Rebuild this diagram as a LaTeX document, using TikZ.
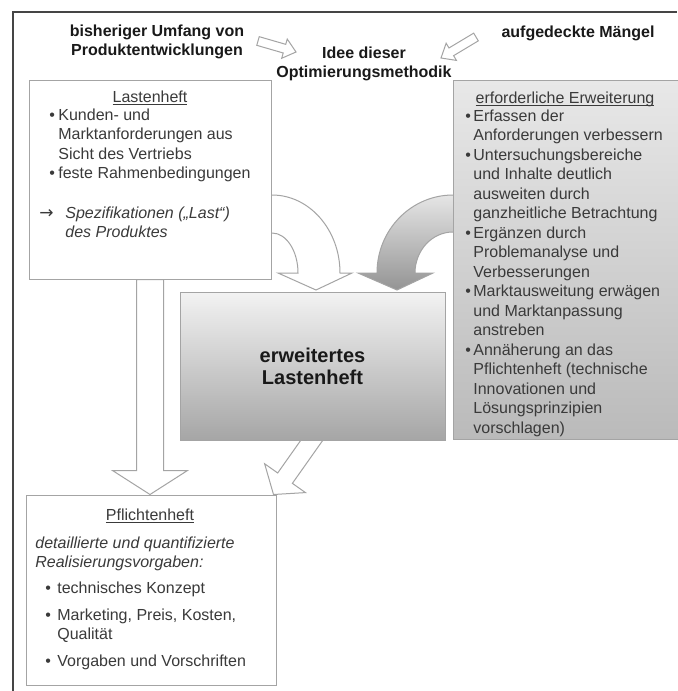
\documentclass[tikz,border=0pt]{standalone}
\usepackage{fontspec}
\setmainfont{Liberation Sans}
\newfontfamily\arrowfont{DejaVu Sans}
\usetikzlibrary{calc,backgrounds}

\definecolor{framegray}{HTML}{454545}
\definecolor{linegray}{HTML}{A4A4A4}
\definecolor{textgray}{HTML}{3A3A3A}
\tikzstyle{heft} = [draw=linegray, line width=0.5pt, fill=white, inner sep=0pt]

% underline at a fixed depth
\newcommand{\undl}[1]{\setbox0\hbox{#1}\rlap{\rule[-1.3pt]{\wd0}{0.4pt}}\box0}
% block arrow: [style]{tail}{tip}{shaft half width}{head half width}{head length}
\newcommand{\blockarrow}[6][]{%
  \path ($(#3)!#6!(#2)$) coordinate (bahead);
  \draw[#1] ($(#2)!#4!90:(#3)$) -- ($(bahead)!#4!90:(#3)$)
    -- ($(bahead)!#5!90:(#3)$) -- (#3)
    -- ($(bahead)!#5!-90:(#3)$) -- ($(bahead)!#4!-90:(#3)$)
    -- ($(#2)!#4!-90:(#3)$) -- cycle;}

\begin{document}
\begin{tikzpicture}[x=0.5pt, y=-0.5pt,
			txt/.style = {inner sep=0pt, text=textgray, font=\fontsize{8}{9.75}\selectfont},
			head/.style = {inner sep=0pt, text=black!90, font=\fontsize{8}{9.5}\selectfont\bfseries},
			hollow/.style = {draw=linegray, line width=0.5pt, fill=white},
			shaded/.style = {draw=linegray, line width=0.5pt, top color=black!10, bottom color=black!42}]
			\useasboundingbox (0,0) rectangle (677,691);
			
			% boxes
			\node (last) [heft, minimum width=121pt, minimum height=99.5pt] at (150,179.5) {};
			\node (erf) [heft, top color=black!9, bottom color=black!27, minimum width=123.5pt, minimum height=179.5pt] at (576.5,259.5) {};
			\node (mid) [heft, top color=black!5, bottom color=black!35, minimum width=132.5pt, minimum height=74pt,
				align=center, text=black!90, font=\fontsize{10}{11}\selectfont\bfseries] at (312.5,366) {erweitertes\\Lastenheft};
			\node (pf) [heft, minimum width=125pt, minimum height=95pt] at (151,590) {};
			
			% headings on top
			\node (bish) [head, anchor=base] at (157,36) {\begin{tabular}[t]{@{}c@{}}bisheriger Umfang von\\Produktentwicklungen\end{tabular}};
			\node (idee) [head, anchor=base] at (364,58) {\begin{tabular}[t]{@{}c@{}}Idee dieser\\Optimierungsmethodik\end{tabular}};
			\node (mangel) [head, anchor=base] at (578,37) {aufgedeckte Mängel};
			
			% Lastenheft
			\node (lasttitle) [txt, anchor=base] at (150,102) {\undl{Lastenheft}};
			\node (lastlist) [txt, anchor=base west] at (49,120) {\begin{tabular}[t]{@{}p{4.5pt}@{}l@{}}
				\textbullet & Kunden- und\\
				& Marktanforderungen aus\\
				& Sicht des Vertriebs\\
				\textbullet & feste Rahmenbedingungen
			\end{tabular}};
			\node (lastspec) [txt, anchor=base west] at (39,218) {\begin{tabular}[t]{@{}p{13pt}@{}l@{}}
				{\arrowfont\fontsize{8.5}{9.75}\selectfont →} & \itshape Spezifikationen („Last“)\\
				& \itshape des Produktes
			\end{tabular}};
			
			% erforderliche Erweiterung
			\node (erftitle) [txt, anchor=base] at (565,103) {\undl{erforderliche Erweiterung}};
			\node (erflist) [txt, anchor=base west] at (465,121) {\begin{tabular}[t]{@{}p{4pt}@{}l@{}}
				\textbullet & Erfassen der\\
				& Anforderungen verbessern\\
				\textbullet & Untersuchungsbereiche\\
				& und Inhalte deutlich\\
				& ausweiten durch\\
				& ganzheitliche Betrachtung\\
				\textbullet & Ergänzen durch\\
				& Problemanalyse und\\
				& Verbesserungen\\
				\textbullet & Marktausweitung erwägen\\
				& und Marktanpassung\\
				& anstreben\\
				\textbullet & Annäherung an das\\
				& Pflichtenheft (technische\\
				& Innovationen und\\
				& Lösungsprinzipien\\
				& vorschlagen)
			\end{tabular}};
			
			% Pflichtenheft
			\node (pftitle) [txt, anchor=base] at (150,520) {\undl{Pflichtenheft}};
			\node (pfdesc) [txt, anchor=base west, font=\fontsize{8}{9.5}\selectfont\itshape] at (35,548)
				{\begin{tabular}[t]{@{}l@{}}detaillierte und quantifizierte\\Realisierungsvorgaben:\end{tabular}};
			\node (pflist) [txt, anchor=base west, font=\fontsize{8}{9.5}\selectfont] at (45,593) {\begin{tabular}[t]{@{}p{6pt}@{}l@{}}
				\textbullet & technisches Konzept\\[4pt]
				\textbullet & Marketing, Preis, Kosten,\\
				& Qualität\\[4pt]
				\textbullet & Vorgaben und Vorschriften
			\end{tabular}};
			
			% outer frame
			\draw[framegray, line width=1.25pt] (13,691) -- (13,12) -- (677,12);
			
			% block arrows behind the boxes
			\begin{pgfonlayer}{background}
				\fill[white] (0,0) rectangle (677,691);
				\coordinate (b1tail) at (258,41);
				\coordinate (b1tip) at (296,52);
				\coordinate (b2tail) at (476,37);
				\coordinate (b2tip) at (441,58);
				\blockarrow[hollow]{b1tail}{b1tip}{2.25pt}{5pt}{6pt}
				\blockarrow[hollow]{b2tail}{b2tip}{2.25pt}{5pt}{6pt}
				
				\coordinate (vtip) at (last.south |- pf.north);
				\blockarrow[hollow]{last.south}{vtip}{6.75pt}{18.75pt}{12pt}
				
				\coordinate (dtail) at ($(mid.south)+(5.5,-9)$);
				\coordinate (dtip) at ($(pf.north east)+(-3,0)$);
				\blockarrow[hollow]{dtail}{dtip}{4.5pt}{12.5pt}{10pt}
				
				% curved arrows into the middle box
				\draw[hollow] (262,195) -- (272,195) arc[start angle=90, end angle=0, x radius=34pt, y radius=39pt]
					-- (352,273) -- (316,290) -- (278,273) -- (298,273)
					arc[start angle=0, end angle=90, x radius=13pt, y radius=20pt] -- (262,233) -- cycle;
				\draw[shaded] (463,195) -- (453,195) arc[start angle=90, end angle=180, x radius=38pt, y radius=39pt]
					-- (358,273) -- (397,290) -- (433,273) -- (415,273)
					arc[start angle=180, end angle=90, x radius=19pt, y radius=20.5pt] -- (463,232) -- cycle;
			\end{pgfonlayer}
		\end{tikzpicture}
\end{document}
